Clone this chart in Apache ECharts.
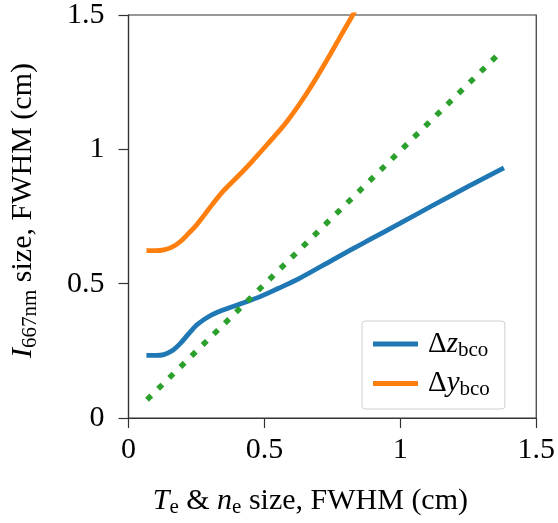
<!DOCTYPE html>
<html><head><meta charset="utf-8">
<script src="https://cdn.jsdelivr.net/npm/echarts@6/dist/echarts.min.js"></script>
<style>html,body{margin:0;padding:0;background:#fff}#c{width:558px;height:523px}</style>
</head><body><div id="c"></div>
<script>
const xTicks = [0, 0.5, 1, 1.5];
const yTicks = [0, 0.5, 1, 1.5];
const dzX = [0.066,0.10,0.13,0.16,0.19,0.22,0.25,0.28,0.31,0.35,0.41,0.48,0.55,0.629,0.75,0.875,1.0,1.117,1.25,1.381];
const dzY = [0.233,0.233,0.236,0.250,0.277,0.312,0.345,0.368,0.386,0.403,0.424,0.450,0.482,0.520,0.588,0.657,0.725,0.790,0.862,0.931];
const dyX = [0.066,0.10,0.13,0.16,0.19,0.22,0.25,0.28,0.31,0.35,0.40,0.45,0.51,0.58,0.654,0.72,0.776,0.825,0.87];
const dyY = [0.623,0.623,0.626,0.636,0.656,0.686,0.718,0.757,0.797,0.846,0.897,0.950,1.018,1.100,1.206,1.315,1.414,1.500,1.580];
const refX = [0.068, 1.375];
const refY = [0.068, 1.368];

const zip = (a, b) => a.map((v, i) => [v, b[i]]);
const F = '"Liberation Serif", "DejaVu Serif", serif';
const rich = {
  n: {fontFamily: F, fontSize: 30, color: '#000'},
  i: {fontFamily: F, fontSize: 30, fontStyle: 'italic', color: '#000'},
  s: {fontFamily: F, fontSize: 21, color: '#000', padding: [13, 0, 0, 0]}
};
const chart = echarts.init(document.getElementById('c'), null, {renderer: 'canvas'});
chart.setOption({
  animation: false,
  backgroundColor: '#fff',
  grid: {left: 128.5, right: 20.5, top: 13.3, bottom: 100.7, show: true, borderColor: '#333', borderWidth: 1.2, backgroundColor: 'transparent'},
  xAxis: {
    type: 'value', min: xTicks[0], max: xTicks[xTicks.length - 1], interval: 0.5,
    splitLine: {show: false},
    axisLine: {show: true, onZero: false, lineStyle: {color: '#333', width: 1.2}},
    axisTick: {show: true, length: 10, lineStyle: {color: '#333', width: 1.2}},
    axisLabel: {fontFamily: F, fontSize: 30, color: '#000', margin: 17},
    name: '{i|T}{s|e}{n| & }{i|n}{s|e}{n| size, FWHM (cm)}',
    nameLocation: 'middle', nameGap: 66,
    nameTextStyle: {rich: rich, padding: [0, 44, 0, 0]}
  },
  yAxis: {
    type: 'value', min: yTicks[0], max: yTicks[yTicks.length - 1], interval: 0.5,
    splitLine: {show: false},
    axisLine: {show: true, onZero: false, lineStyle: {color: '#333', width: 1.2}},
    axisTick: {show: true, length: 10, lineStyle: {color: '#333', width: 1.2}},
    axisLabel: {fontFamily: F, fontSize: 30, color: '#000', margin: 24},
    name: '{i|I}{s|667nm}{n| size, FWHM (cm)}',
    nameLocation: 'middle', nameGap: 88, nameRotate: 90,
    nameTextStyle: {rich: rich, padding: [0, 0, 0, 12]}
  },
  legend: {
    data: ['dz', 'dy'], orient: 'vertical', left: 362, top: 321,
    icon: 'rect', itemWidth: 45, itemHeight: 5, itemGap: 8,
    padding: [8, 15, 9, 11],
    borderColor: '#d0d0d0', borderWidth: 1, borderRadius: 3, backgroundColor: '#fff',
    formatter: function (name) {
      return name === 'dz' ? '{n|Δ}{i|z}{s|bco}' : '{n|Δ}{i|y}{s|bco}';
    },
    textStyle: {lineHeight: 30, padding: [0, 0, 0, 5], rich: {
      n: {fontFamily: F, fontSize: 29, color: '#000'},
      i: {fontFamily: F, fontSize: 29, fontStyle: 'italic', color: '#000'},
      s: {fontFamily: F, fontSize: 21, color: '#000', padding: [12, 0, 0, 0]}
    }}
  },
  series: [
    {name: 'ref', type: 'line', data: zip(refX, refY), showSymbol: false, symbol: 'none',
     lineStyle: {color: '#2ca02c', width: 5.5, type: [6, 9.6], cap: 'butt'}, z: 3},
    {name: 'dz', type: 'line', data: zip(dzX, dzY), showSymbol: false, symbol: 'none', smooth: 0.3,
     lineStyle: {color: '#1f77b4', width: 4.8}, itemStyle: {color: '#1f77b4'}, z: 2},
    {name: 'dy', type: 'line', data: zip(dyX, dyY), showSymbol: false, symbol: 'none', smooth: 0.3, clip: true,
     lineStyle: {color: '#ff7f0e', width: 4.8}, itemStyle: {color: '#ff7f0e'}, z: 2}
  ]
});
</script></body></html>
